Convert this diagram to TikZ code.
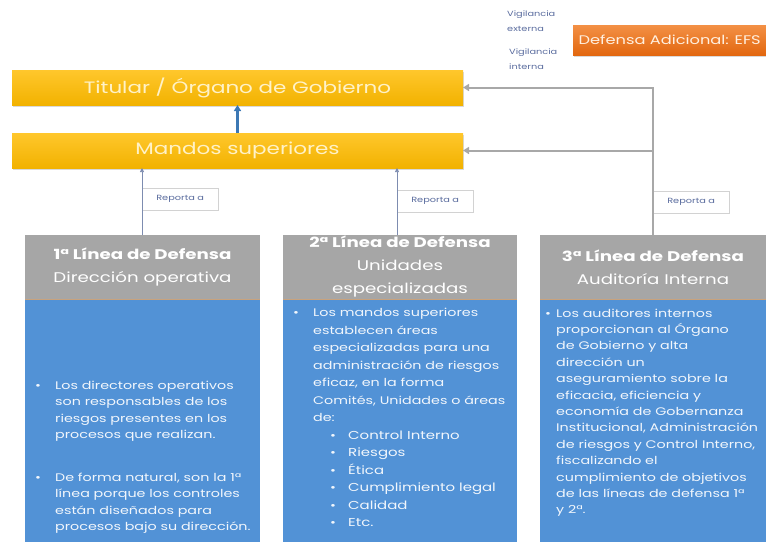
\documentclass[tikz,border=0pt]{standalone}
\usepackage{fontspec}
\setmainfont{Poppins}[FakeStretch=1.3]
\usetikzlibrary{positioning, arrows.meta, shadows}

\definecolor{oro}{HTML}{F2B200}
\definecolor{oroClaro}{HTML}{FFC72C}
\definecolor{naranja}{HTML}{E2670F}
\definecolor{naranjaClaro}{HTML}{F39045}
\definecolor{grisCab}{HTML}{A6A6A6}
\definecolor{azulCuerpo}{HTML}{5292D6}
\definecolor{grisFlecha}{HTML}{A8A8A8}
\definecolor{azulFlecha}{HTML}{3C78B4}
\definecolor{azulRep}{HTML}{7D8CB0}
\definecolor{textoRep}{HTML}{5A6C9E}
\definecolor{textoBarra}{HTML}{FFF2C8}
\definecolor{lineaCab}{HTML}{C9A27C}

\tikzset{
    barra/.style={draw=none, top color=oroClaro, bottom color=oro, minimum width=451pt, minimum height=35pt,
        inner sep=0pt, outer sep=0pt, anchor=north west, text=textoBarra, font=\fontsize{16.5}{20}\selectfont,
        drop shadow={opacity=0.3, shadow xshift=1pt, shadow yshift=-2pt}},
    cabecera/.style={draw=none, fill=grisCab, inner sep=0pt, outer sep=0pt, anchor=north west, align=center,
        text=white, font=\fontsize{14}{23}\selectfont},
    cuerpo/.style={draw=none, fill=azulCuerpo, inner sep=0pt, outer sep=0pt},
    lista/.style={inner sep=0pt, anchor=north west, text=white!92!azulCuerpo},
    reporta/.style={draw=gray!35, fill=white, minimum width=76pt, minimum height=22pt, inner sep=0pt,
        anchor=south west, text=textoRep, font=\fontsize{7.5}{8}\selectfont},
    vigilancia/.style={inner sep=0pt, anchor=north west, align=left, text=textoRep, font=\fontsize{7.5}{15}\selectfont},
    reporte/.style={draw=azulRep, line width=0.6pt, -{Triangle[width=4pt, length=4pt]}},
    retro/.style={draw=grisFlecha, line width=2pt, -{Triangle[width=7pt, length=6pt]}},
    subida/.style={draw=azulFlecha, line width=2.2pt, -{Triangle[width=7pt, length=6pt]}}
}

\newcommand{\subpunto}[1]{& \hspace{17pt}\makebox[18pt][l]{\textbullet}{\fontsize{11.5}{17}\selectfont #1}}

\begin{document}
\begin{tikzpicture}[x=1pt, y=-1pt]
        % Fix the frame of the page to the size of the reference
        \useasboundingbox (0,0) rectangle (766,542);

        %%% Upper bars
            % Titular bar on top
            \node[barra] (titular) at (12,70) {Titular / Órgano de Gobierno};

            % Mandos bar below the titular bar
            \node[barra] (mandos) at (12,133) {Mandos superiores};

            % Arrow from the mandos to the titular
            \draw[subida] (mandos.north) -- (titular.south);

        %%% External surveillance
            % Orange box in the upper right corner
            \node[draw=none, top color=naranjaClaro, bottom color=naranja, minimum width=193pt, minimum height=30pt,
                inner sep=0pt, anchor=north west, text=white!88!orange, font=\fontsize{12.5}{15}\selectfont,
                drop shadow={opacity=0.3, shadow xshift=1pt, shadow yshift=-2pt}] (efs) at (573,25) {Defensa Adicional: EFS};

            % Small labels left of the orange box
            \node[vigilancia] (vigExterna) at (507,11) {Vigilancia\\externa};
            \node[vigilancia] (vigInterna) at (509,49) {Vigilancia\\interna};

        %%% First line
            % Grey header
            \node[cabecera, minimum width=235pt, minimum height=64pt] (cab1) at (25,235)
                {\textbf{1ª Línea de Defensa}\\Dirección operativa};

            % Blue body directly below the header
            \node[cuerpo, minimum width=235pt, minimum height=243pt, below=0 of cab1] (cuerpo1) {};
            \draw[lineaCab, line width=1pt] (cab1.south west) -- (cab1.south east); % Bottom side of header

            % Text of the body
            \node[lista, font=\fontsize{11}{16.5}\selectfont] (lista1) at (35,377.5) {\begin{tabular}{@{}p{20pt}@{}l@{}}
                \textbullet & Los directores operativos\\
                & son responsables de los\\
                & riesgos presentes en los\\
                & procesos que realizan.\\[26pt]
                \textbullet & De forma natural, son la 1ª\\
                & línea porque los controles\\
                & están diseñados para\\
                & procesos bajo su dirección.
            \end{tabular}};

        %%% Second line
            % Grey header
            \node[cabecera, minimum width=234pt, minimum height=64pt] (cab2) at (283,235)
                {\textbf{2ª Línea de Defensa}\\Unidades\\especializadas};

            % Blue body directly below the header
            \node[cuerpo, minimum width=234pt, minimum height=243pt, below=0 of cab2] (cuerpo2) {};
            \draw[lineaCab, line width=1pt] (cab2.south west) -- (cab2.south east); % Bottom side of header

            % Text of the body
            \node[lista, font=\fontsize{11}{17.5}\selectfont] (lista2) at (293,304.5) {\begin{tabular}{@{}p{20pt}@{}l@{}}
                \textbullet & Los mandos superiores\\
                & establecen áreas\\
                & especializadas para una\\
                & administración de riesgos\\
                & eficaz, en la forma\\
                & Comités, Unidades o áreas\\
                & de:\\
                \subpunto{Control Interno}\\
                \subpunto{Riesgos}\\
                \subpunto{Ética}\\
                \subpunto{Cumplimiento legal}\\
                \subpunto{Calidad}\\
                \subpunto{Etc.}
            \end{tabular}};

        %%% Third line
            % Grey header
            \node[cabecera, minimum width=226pt, minimum height=64pt] (cab3) at (540,235)
                {\textbf{3ª Línea de Defensa}\\Auditoría Interna};

            % Blue body directly below the header
            \node[cuerpo, minimum width=226pt, minimum height=243pt, below=0 of cab3] (cuerpo3) {};
            \draw[lineaCab, line width=1pt] (cab3.south west) -- (cab3.south east); % Bottom side of header

            % Text of the body
            \node[lista, font=\fontsize{11}{16.4}\selectfont] (lista3) at (545,305.5) {\begin{tabular}{@{}p{11pt}@{}l@{}}
                \textbullet & Los auditores internos\\
                & proporcionan al Órgano\\
                & de Gobierno y alta\\
                & dirección un\\
                & aseguramiento sobre la\\
                & eficacia, eficiencia y\\
                & economía de Gobernanza\\
                & Institucional, Administración\\
                & de riesgos y Control Interno,\\
                & fiscalizando el\\
                & cumplimiento de objetivos\\
                & de las líneas de defensa 1ª\\
                & y 2ª.
            \end{tabular}};

        %%% Reports
            % Labels on the lines
            \node[reporta] (rep1) at (142,210) {Reporta a};
            \node[reporta] (rep2) at (397,212) {Reporta a};
            \node[reporta] (rep3) at ([yshift=22pt]cab3.north) {Reporta a};

            % Thin lines from the first two lines up to the mandos
            \draw[reporte] (rep1.west |- cab1.north) -- (rep1.west |- mandos.south);
            \draw[reporte] (rep2.west |- cab2.north) -- (rep2.west |- mandos.south);

            % Grey lines from the third line to both bars
            \draw[retro] (cab3.north) -- (cab3.north |- titular.east) -- (titular.east);
            \draw[retro] (cab3.north |- mandos.east) -- (mandos.east);
\end{tikzpicture}
\end{document}
